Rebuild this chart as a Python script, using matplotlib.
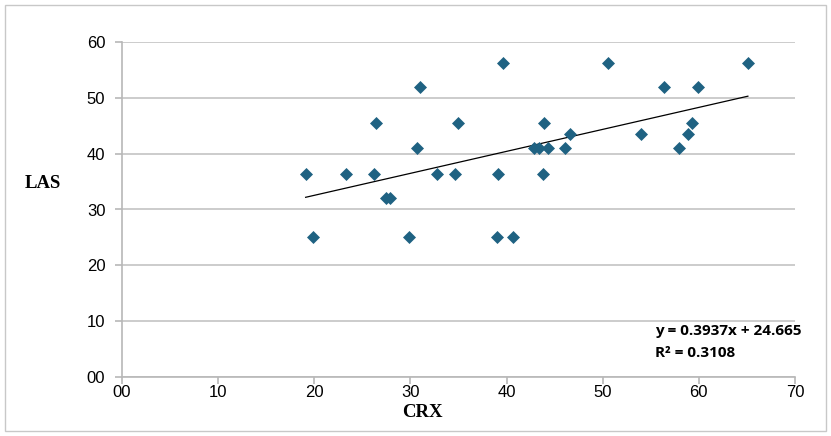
import matplotlib
matplotlib.use('Agg')
import matplotlib.pyplot as plt
import numpy as np

# CRX vs LAS values
crx = [19.1, 19.9, 23.3, 26.4, 26.2, 27.5, 27.9, 29.8, 30.7, 31.0,
       32.8, 34.6, 34.9, 39.0, 39.1, 39.6, 40.7, 42.9, 43.4, 44.3,
       43.9, 43.8, 46.1, 46.6, 50.6, 54.0, 56.4, 57.9, 58.9, 59.3,
       59.9, 65.1]
las = [36.3, 25.0, 36.3, 45.5, 36.3, 32.0, 32.0, 25.0, 41.1, 51.9,
       36.3, 36.3, 45.5, 25.0, 36.3, 56.2, 25.0, 41.1, 41.1, 41.1,
       45.5, 36.3, 41.1, 43.5, 56.2, 43.5, 51.9, 41.1, 43.5, 45.5,
       51.9, 56.2]

# linear trend as reported on the chart
slope = 0.3937
intercept = 24.665
r2 = 0.3108

xticks = [0, 10, 20, 30, 40, 50, 60, 70]
yticks = [0, 10, 20, 30, 40, 50, 60]
xticklabels = ['00', '10', '20', '30', '40', '50', '60', '70']
yticklabels = ['00', '10', '20', '30', '40', '50', '60']

fig = plt.figure(figsize=(8.31, 4.36), dpi=100)
ax = fig.add_axes([122 / 831, 1 - 377 / 436, (795 - 122) / 831, (377 - 42) / 436])

# outer chart border
fig.patches.append(plt.Rectangle((5 / 831, 5 / 436), 821 / 831, 426 / 436,
                                 transform=fig.transFigure, fill=False,
                                 edgecolor='#c8c8c8', linewidth=1))

ax.scatter(crx, las, marker='D', s=44, color='#1f6282', zorder=3, linewidths=0)

xs = np.array([min(crx), max(crx)])
ax.plot(xs, slope * xs + intercept, color='black', linewidth=0.9, zorder=2)

ax.set_xlim(0, 70)
ax.set_ylim(0, 60)
ax.set_xticks(xticks)
ax.set_yticks(yticks)
ax.set_xticklabels(xticklabels, family='Liberation Sans', fontsize=12)
ax.set_yticklabels(yticklabels, family='Liberation Sans', fontsize=12)
ax.yaxis.grid(True, color='#c4c4c4', linewidth=1.2)
ax.set_axisbelow(True)
for side in ['top', 'right']:
    ax.spines[side].set_visible(False)
for side in ['left', 'bottom']:
    ax.spines[side].set_color('#b8b8b8')
    ax.spines[side].set_linewidth(1.2)
ax.tick_params(axis='both', colors='#b8b8b8', labelcolor='black', length=5, width=1.2)
ax.tick_params(axis='x', pad=1)
ax.tick_params(axis='y', pad=7)

fig.text(422 / 831, 1 - 412 / 436, 'CRX', family='Liberation Serif', fontweight='bold',
         fontsize=13.5, ha='center', va='center')
fig.text(43 / 831, 1 - 183 / 436, 'LAS', family='Liberation Serif', fontweight='bold',
         fontsize=13.5, ha='center', va='center')

fig.text(655 / 831, 1 - 331 / 436, 'y = %.4fx + %.3f' % (slope, intercept),
         family='Open Sans', fontweight='bold', fontsize=11, ha='left', va='center')
fig.text(655 / 831, 1 - 353 / 436, 'R² = %.4f' % r2,
         family='Open Sans', fontweight='bold', fontsize=11, ha='left', va='center')

fig.savefig('out.png', dpi=100)
